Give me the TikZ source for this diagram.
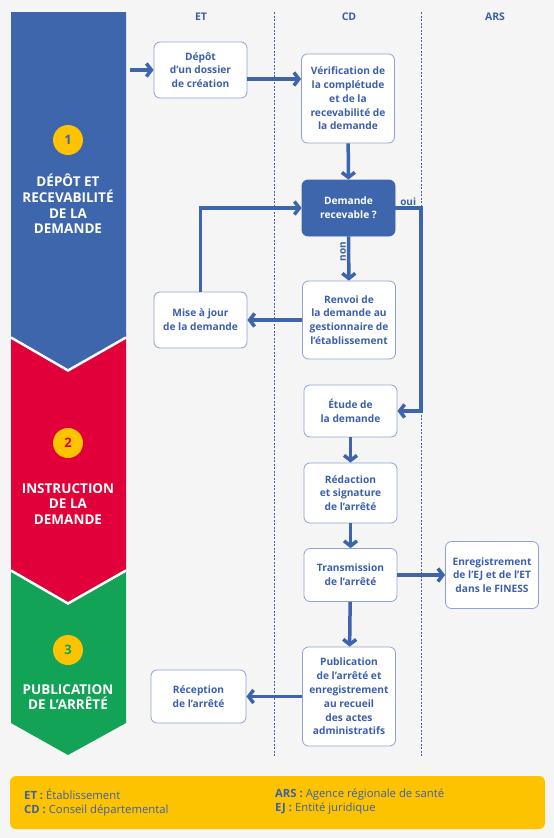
\documentclass[tikz,border=0pt]{standalone}
\usepackage{fontspec}
\setmainfont{Open Sans}
\usetikzlibrary{arrows.meta}
\definecolor{bggray}{HTML}{F5F5F5}
\definecolor{bandblue}{HTML}{3D66AD}
\definecolor{bandred}{HTML}{E2003B}
\definecolor{bandgreen}{HTML}{12A356}
\definecolor{dotyellow}{HTML}{FDC300}
\definecolor{boxline}{HTML}{8FA2D3}
\definecolor{txtblue}{HTML}{3C5FAB}
\definecolor{arrowblue}{HTML}{3D64AD}
\tikzset{
  stepbox/.style={draw=boxline, line width=0.8pt, fill=white, rounded corners=6pt,
    text=txtblue, font=\bfseries\fontsize{10.2}{13.8}\selectfont, align=center,
    minimum width=93pt, inner sep=1pt},
  choicebox/.style={stepbox, draw=bandblue, fill=bandblue, text=white},
  flow/.style={draw=arrowblue, line width=3.5pt, -{Straight Barb[length=5pt,width=13pt]}},
  lane/.style={draw=arrowblue, line width=0.6pt, dash pattern=on 2pt off 1.5pt},
  head/.style={text=txtblue, font=\bfseries\fontsize{10.5}{12}\selectfont},
  numdot/.style={circle, fill=dotyellow, minimum size=30pt, inner sep=0pt,
    font=\bfseries\fontsize{13}{13}\selectfont},
  phase/.style={text=white, align=center, font=\bfseries\fontsize{13.5}{15.8}\selectfont},
  tag/.style={text=txtblue, font=\bfseries\fontsize{10}{10}\selectfont, inner sep=1pt},
  legend/.style={text=txtblue, align=left, anchor=north west, inner sep=0pt,
    font=\fontsize{11.3}{13.5}\selectfont}
}
\begin{document}
\begin{tikzpicture}[x=1pt,y=-1pt]
  % background
  \fill[bggray] (0,0) rectangle (554,838);

  % phase bands
  \fill[bandgreen] (11,566) -- (68,599) -- (126,566) -- (126,723) -- (68,755) -- (11,723) -- cycle;
  \fill[bandred] (11,333) -- (68,366) -- (126,333) -- (126,569) -- (68,602) -- (11,569) -- cycle;
  \draw[white, line width=2.5pt] (11,570.5) -- (68,603.5) -- (126,570.5);
  \fill[bandblue] (11,12) -- (126,12) -- (126,336) -- (68,369) -- (11,336) -- cycle;
  \draw[white, line width=2.5pt] (11,337.5) -- (68,370.5) -- (126,337.5);

  \node[numdot, text=bandblue] (n1) at (68,140) {1};
  \node[numdot, text=bandred] (n2) at (68,443) {2};
  \node[numdot, text=bandgreen] (n3) at (68,650) {3};
  \node[phase] (p1) at (68,204) {DÉPÔT ET\\RECEVABILITÉ\\DE LA\\DEMANDE};
  \node[phase] (p2) at (68,504) {INSTRUCTION\\DE LA\\DEMANDE};
  \node[phase] (p3) at (68,697) {PUBLICATION\\DE L’ARRÊTÉ};

  % lanes
  \draw[lane] (274,12) -- (274,757);
  \draw[lane] (421,12) -- (421,757);
  \node[head] (et) at (201,17) {ET};
  \node[head] (cd) at (349,17) {CD};
  \node[head] (ars) at (495,17) {ARS};

  % steps
  \node[stepbox, minimum height=56pt] (depot) at (200.5,70) {Dépôt\\d’un dossier\\de création};
  \node[stepbox, minimum height=89pt] (verif) at (348,98.5) {Vérification de\\la complétude\\et de la\\recevabilité de\\la demande};
  \node[choicebox, minimum height=56pt] (recev) at (348.5,208) {Demande\\recevable ?};
  \node[stepbox, minimum height=56pt] (maj) at (200.5,320) {Mise à jour\\de la demande};
  \node[stepbox, minimum height=78pt] (renvoi) at (349,320) {Renvoi de\\la demande au\\gestionnaire de\\l’établissement};
  \node[stepbox, minimum height=52pt] (etude) at (350.5,411) {Étude de\\la demande};
  \node[stepbox, minimum height=60pt] (redac) at (350.5,493) {Rédaction\\et signature\\de l’arrêté};
  \node[stepbox, minimum height=53pt] (transm) at (350.5,575) {Transmission\\de l’arrêté};
  \node[stepbox, minimum height=67pt] (finess) at (492,575) {Enregistrement\\de l’EJ et de l’ET\\dans le FINESS};
  \node[stepbox, minimum height=99pt] (publi) at (349,696.5) {Publication\\de l’arrêté et\\enregistrement\\au recueil\\des actes\\administratifs};
  \node[stepbox, minimum height=53pt, minimum width=95pt] (recep) at (198.5,696.5) {Réception\\de l’arrêté};

  % connectors
  \coordinate (entry) at (130,70);
  \coordinate (ouiturn) at (421,208);
  \draw[flow] (entry) -- (depot);
  \draw[flow] ([yshift=-9pt]depot.east) -- ([yshift=-9pt]depot.east -| verif.west);
  \draw[flow] (verif) -- (recev);
  \draw[flow] (recev) -- node[tag, pos=0.35, rotate=90, anchor=south] {non} (renvoi);
  \draw[flow] (recev.east) -- node[tag, above] {oui} (ouiturn) |- (etude.east);
  \draw[flow] (renvoi) -- (maj);
  \draw[flow] (maj.north) |- (recev.west);
  \draw[flow] (etude) -- (redac);
  \draw[flow] (redac) -- (transm);
  \draw[flow] (transm) -- (finess);
  \draw[flow] (transm) -- (publi);
  \draw[flow] (publi) -- (recep);

  % legend
  \fill[dotyellow, rounded corners=6pt] (10,776) rectangle (545,829);
  \node[legend] (leg1) at (24,789) {\textbf{ET :} Établissement\\\textbf{CD :} Conseil départemental};
  \node[legend] (leg2) at (275,789) {\textbf{ARS :} Agence régionale de santé\\\textbf{EJ :} Entité juridique};
\end{tikzpicture}
\end{document}
